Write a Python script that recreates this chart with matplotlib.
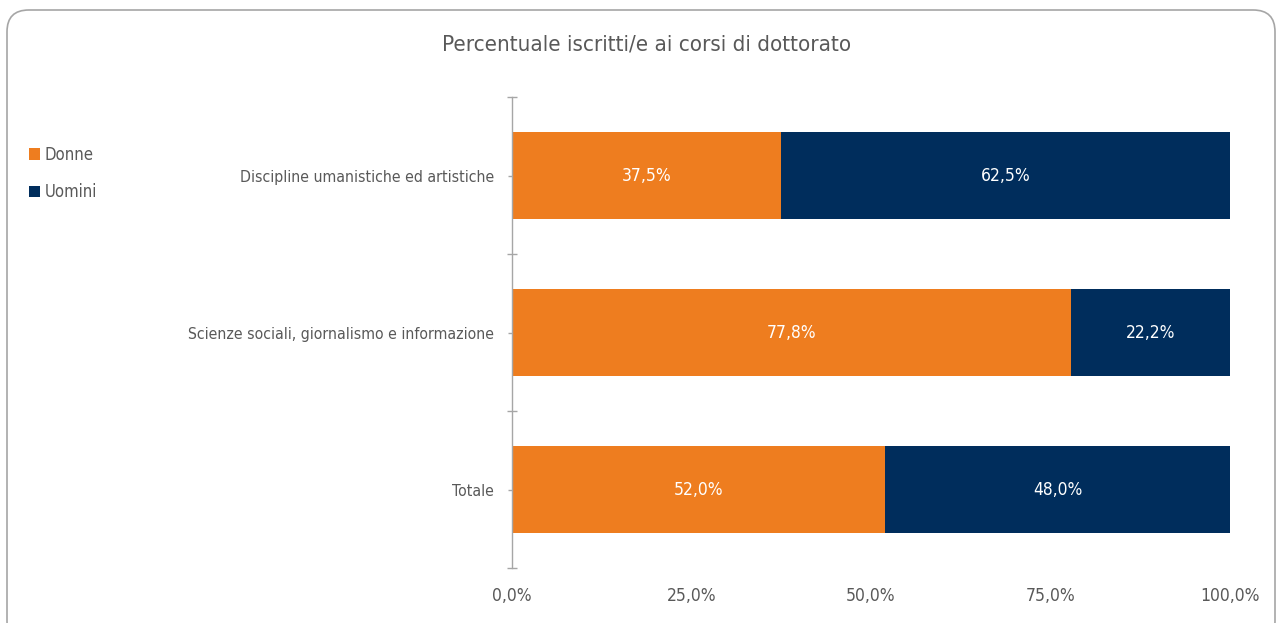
import matplotlib
matplotlib.use("Agg")
import matplotlib.pyplot as plt
from matplotlib.patches import FancyBboxPatch, Patch

categories = ["Discipline umanistiche ed artistiche",
              "Scienze sociali, giornalismo e informazione",
              "Totale"]
donne = [37.5, 77.8, 52.0]
uomini = [62.5, 22.2, 48.0]
xticks = [0, 25, 50, 75, 100]
title = "Percentuale iscritti/e ai corsi di dottorato"

ORANGE = "#EE7D1F"
NAVY = "#002D5C"
GRAY = "#595959"

plt.rcParams['font.family'] = ["DejaVu Sans"]
plt.rcParams['font.stretch'] = "condensed"


def fmt(v):
    return f"{v:.1f}%".replace(".", ",")


fig = plt.figure(figsize=(12.8, 6.23), dpi=100)
W, H = 1280, 623

# rounded border
border = FancyBboxPatch((7 / W, -20 / H), (1268) / W, (613 + 20) / H,
                        boxstyle="round,pad=0,rounding_size=0.017",
                        transform=fig.transFigure, fill=False,
                        edgecolor="#A6A6A6", linewidth=1.2, clip_on=False,
                        mutation_aspect=W / H)
fig.patches.append(border)

ax = fig.add_axes([512 / W, 1 - 568 / H, (1230 - 512) / W, (568 - 97) / H])

ypos = list(range(len(categories)))
bh = 0.56
ax.barh(ypos, donne, height=bh, color=ORANGE, label="Donne")
ax.barh(ypos, uomini, left=donne, height=bh, color=NAVY, label="Uomini")

for i in ypos:
    ax.text(donne[i] / 2, i, fmt(donne[i]), ha="center",
            va="center", color="white", fontsize=12.5)
    ax.text(donne[i] + uomini[i] / 2, i, fmt(uomini[i]),
            ha="center", va="center", color="white", fontsize=12.5)

ax.set_xlim(0, 100)
ax.set_ylim(len(categories) - 0.5, -0.5)
ax.set_xticks(xticks)
ax.set_xticklabels([fmt(v) for v in xticks])
ax.set_yticks(ypos)
ax.set_yticklabels(categories)
ax.set_yticks([-0.5, 0.5, 1.5, 2.5], minor=True)

for s in ["top", "right", "bottom"]:
    ax.spines[s].set_visible(False)
ax.spines["left"].set_color("#A6A6A6")
ax.spines["left"].set_linewidth(1.0)

ax.tick_params(axis="x", length=0, pad=14, labelsize=12.5, labelcolor=GRAY)
ax.tick_params(axis="y", which="major", length=3, width=1.0, color="#A6A6A6",
               pad=10, labelsize=11.3, labelcolor=GRAY)
ax.tick_params(axis="y", which="minor", direction="inout", length=7,
               width=1.0, color="#A6A6A6")

fig.text(647 / W, 1 - 45 / H, title, ha="center", va="center",
         fontsize=16, color=GRAY)

handles = [Patch(facecolor=ORANGE, label="Donne"),
           Patch(facecolor=NAVY, label="Uomini")]
fig.legend(handles=handles, loc="upper left", bbox_to_anchor=(14 / W, 1 - 131 / H),
           frameon=False, fontsize=12, labelcolor=GRAY, handlelength=0.68,
           handleheight=0.68, handletextpad=0.25, labelspacing=1.15)

fig.savefig("out.png", dpi=100)
